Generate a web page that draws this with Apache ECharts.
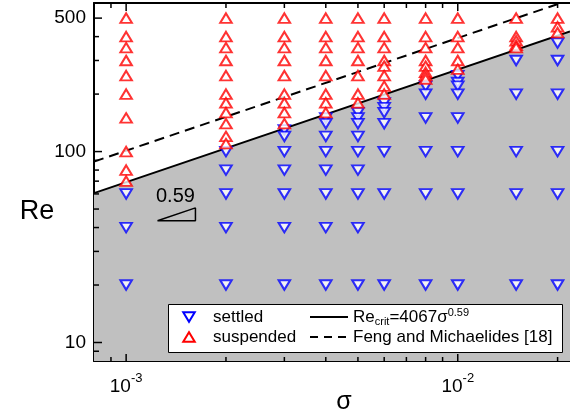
<!DOCTYPE html>
<html>
<head>
<meta charset="utf-8">
<script src="https://cdn.jsdelivr.net/npm/echarts@6/dist/echarts.min.js"></script>
<style>
html, body { margin: 0; padding: 0; background: #fff; }
#chart { width: 570px; height: 416px; }
</style>
</head>
<body>
<div id="chart"></div>
<script>
// Particle-load ratio columns
const sigmaValues = [0.001, 0.002, 0.003, 0.004, 0.005, 0.006, 0.008, 0.01, 0.015, 0.02];

// Reynolds numbers of runs where particles stayed on the bed
const settledRe = [
  [60, 40, 20],
  [100, 80, 60, 40, 20],
  [130, 120, 100, 80, 60, 40, 20],
  [150, 140, 120, 100, 80, 60, 40, 20],
  [160, 150, 140, 120, 100, 80, 60, 40, 20],
  [180, 170, 160, 140, 100, 60, 20],
  [220, 200, 150, 100, 60, 20],
  [250, 230, 220, 200, 150, 100, 60, 20],
  [300, 200, 100, 60, 20],
  [370, 300, 200, 100, 60, 20]
];

// Reynolds numbers of runs where particles were suspended
const suspendedRe = [
  [500, 400, 350, 300, 250, 200, 150, 100, 80, 70],
  [500, 400, 350, 300, 250, 200, 180, 160, 140, 120, 110],
  [500, 400, 350, 300, 250, 200, 180, 160, 140],
  [500, 400, 350, 300, 250, 200, 180, 160],
  [500, 400, 350, 300, 250, 200, 180],
  [500, 400, 350, 300, 280, 250, 220, 200],
  [500, 400, 350, 300, 280, 260, 250, 240],
  [500, 400, 350, 300, 270],
  [500, 400, 380, 360, 350],
  [500, 450, 420]
];

// Critical Reynolds number fit: Re_crit = 4067 * sigma^0.59
const critCoef = 4067;
const critExp = 0.59;

// Feng and Michaelides [18] criterion (end points of the straight log-log line)
const fengSigma = [0.0008, 0.0218];
const fengRe = [88.6, 623];

// Axis ranges
const sigmaRange = [0.0008, 0.0218];
const reRange = [8, 600];

// Tick positions
const xMajorTicks = [0.001, 0.01];
const xMinorTicks = [0.0009, 0.002, 0.003, 0.004, 0.005, 0.006, 0.007, 0.008, 0.009, 0.02];
const xTickLabels = ['-3', '-2'];
const yMajorTicks = [10, 100, 500];
const yMinorTicks = [9, 20, 30, 40, 50, 60, 70, 80, 90, 200, 300, 400];
const yTickLabels = ['10', '100', '500'];

// Slope indicator triangle (sigma range and base Re)
const slopeSigma = [0.001243, 0.001618];
const slopeBaseRe = 43.4;
const slopeText = '0.59';

const FONT = '"Liberation Sans", Arial, sans-serif';
const BLUE = '#0000ff';
const RED = '#ff0000';

const critLine = sigmaRange.map(s => [s, critCoef * Math.pow(s, critExp)]);
const fengLine = fengSigma.map((s, i) => [s, fengRe[i]]);
const settledPts = [];
const suspendedPts = [];
sigmaValues.forEach((s, i) => {
  settledRe[i].forEach(r => settledPts.push([s, r]));
  suspendedRe[i].forEach(r => suspendedPts.push([s, r]));
});
const slopeTopRe = slopeBaseRe * Math.pow(slopeSigma[1] / slopeSigma[0], critExp);
const slopeTri = [
  [slopeSigma[0], slopeBaseRe],
  [slopeSigma[1], slopeBaseRe],
  [slopeSigma[1], slopeTopRe],
  [slopeSigma[0], slopeBaseRe]
];

const markerStyle = (c) => ({ color: '#ffffff', borderColor: c, borderWidth: 2 });

const option = {
  animation: false,
  backgroundColor: '#ffffff',
  grid: { left: 94, top: 3, right: -5, bottom: 55, containLabel: false },
  xAxis: [
    {
      type: 'log', logBase: 10, min: sigmaRange[0], max: sigmaRange[1],
      axisLine: { show: true, lineStyle: { color: '#000', width: 2 } },
      axisTick: { show: false }, axisLabel: { show: false }, splitLine: { show: false }
    },
    {
      type: 'log', logBase: 10, position: 'top', min: sigmaRange[0], max: sigmaRange[1],
      axisLine: { show: true, lineStyle: { color: '#000', width: 2 } },
      axisTick: { show: false }, axisLabel: { show: false }, splitLine: { show: false }
    }
  ],
  yAxis: {
    type: 'log', logBase: 10, min: reRange[0], max: reRange[1],
    axisLine: { show: true, lineStyle: { color: '#000', width: 2 } },
    axisTick: { show: false }, axisLabel: { show: false }, splitLine: { show: false }
  },
  series: [
    {
      name: 'settled region', type: 'line', data: critLine, symbol: 'none', z: 1,
      lineStyle: { width: 0 },
      areaStyle: { origin: 'start', color: '#c0c0c0', opacity: 1 }
    },
    {
      name: 'Re_crit', type: 'line', data: critLine, symbol: 'none', z: 2,
      lineStyle: { color: '#000', width: 2 }
    },
    {
      name: 'Feng and Michaelides [18]', type: 'line', data: fengLine, symbol: 'none', z: 2,
      lineStyle: { color: '#000', width: 2, type: [10, 6] }
    },
    {
      name: 'slope', type: 'line', data: slopeTri, symbol: 'none', z: 2,
      lineStyle: { color: '#000', width: 1.5 }
    },
    {
      name: 'settled', type: 'scatter', data: settledPts, z: 3,
      symbol: 'triangle', symbolRotate: 180, symbolSize: [11.5, 9.5],
      itemStyle: markerStyle(BLUE)
    },
    {
      name: 'suspended', type: 'scatter', data: suspendedPts, z: 4,
      symbol: 'triangle', symbolSize: [11.5, 9.5],
      itemStyle: markerStyle(RED)
    }
  ]
};

const chart = echarts.init(document.getElementById('chart'), null, { renderer: 'canvas' });
chart.setOption(option);

const px = v => chart.convertToPixel({ xAxisIndex: 0 }, v);
const py = v => chart.convertToPixel({ yAxisIndex: 0 }, v);
const plotLeft = px(sigmaRange[0]);
const plotTop = py(reRange[1]);
const plotBottom = py(reRange[0]);

const g = [];
const tick = (x1, y1, x2, y2) => g.push({
  type: 'line', z: 20, silent: true,
  shape: { x1, y1, x2, y2 },
  style: { stroke: '#000', lineWidth: 1.5 }
});

// x ticks on the bottom and top frame, pointing inward
xMajorTicks.forEach(v => { const x = px(v); tick(x, plotBottom, x, plotBottom - 7); tick(x, plotTop, x, plotTop + 8); });
xMinorTicks.forEach(v => { const x = px(v); tick(x, plotBottom, x, plotBottom - 4); tick(x, plotTop, x, plotTop + 5); });
// y ticks on the left frame
yMajorTicks.forEach(v => { const y = py(v); tick(plotLeft, y, plotLeft + 8, y); });
yMinorTicks.forEach(v => { const y = py(v); tick(plotLeft, y, plotLeft + 5, y); });

// x tick labels: powers of ten
xMajorTicks.forEach((v, i) => g.push({
  type: 'text', z: 20, silent: true,
  x: px(v), y: plotBottom + 11,
  style: {
    text: '{b|10}{s|' + xTickLabels[i] + '}',
    align: 'center', verticalAlign: 'top',
    rich: {
      b: { fontFamily: FONT, fontSize: 19, fill: '#000', lineHeight: 24, verticalAlign: 'bottom' },
      s: { fontFamily: FONT, fontSize: 13, fill: '#000', lineHeight: 14, verticalAlign: 'top' }
    }
  }
}));
// y tick labels
yMajorTicks.forEach((v, i) => g.push({
  type: 'text', z: 20, silent: true,
  x: plotLeft - 8, y: py(v),
  style: { text: yTickLabels[i], align: 'right', verticalAlign: 'middle', fontFamily: FONT, fontSize: 19, fill: '#000' }
}));

// axis names
g.push({
  type: 'text', z: 20, silent: true, x: 37, y: 212,
  style: { text: 'Re', align: 'center', verticalAlign: 'middle', fontFamily: FONT, fontSize: 27, fill: '#000' }
});
g.push({
  type: 'text', z: 20, silent: true, x: 344, y: 402,
  style: { text: 'σ', align: 'center', verticalAlign: 'middle', fontFamily: FONT, fontSize: 25, fill: '#000' }
});

// slope annotation text
g.push({
  type: 'text', z: 20, silent: true,
  x: (px(slopeSigma[0]) + px(slopeSigma[1])) / 2 - 1, y: py(slopeBaseRe) - 24,
  style: { text: slopeText, align: 'center', verticalAlign: 'middle', fontFamily: FONT, fontSize: 20, fill: '#000' }
});

// legend box
const lx = 168, ly = 304, lw = 394, lh = 48;
g.push({ type: 'rect', z: 30, silent: true, shape: { x: lx + 0.5, y: ly + 0.5, width: lw, height: lh },
  style: { fill: '#fff', stroke: '#000', lineWidth: 1 } });
const row1 = ly + 13, row2 = ly + 33;
const mx = 189, hw = 5.75, hh = 4.75;
g.push({ type: 'polygon', z: 31, silent: true,
  shape: { points: [[mx - hw, row1 - hh], [mx + hw, row1 - hh], [mx, row1 + hh]] },
  style: { fill: '#fff', stroke: BLUE, lineWidth: 2 } });
g.push({ type: 'polygon', z: 31, silent: true,
  shape: { points: [[mx - hw, row2 + hh], [mx + hw, row2 + hh], [mx, row2 - hh]] },
  style: { fill: '#fff', stroke: RED, lineWidth: 2 } });
const legText = (x, y, text) => g.push({ type: 'text', z: 31, silent: true, x, y,
  style: { text, align: 'left', verticalAlign: 'middle', fontFamily: FONT, fontSize: 17, fill: '#000' } });
legText(213, row1, 'settled');
legText(213, row2, 'suspended');
g.push({ type: 'line', z: 31, silent: true, shape: { x1: 310, y1: row1, x2: 348, y2: row1 },
  style: { stroke: '#000', lineWidth: 2 } });
g.push({ type: 'line', z: 31, silent: true, shape: { x1: 310, y1: row2, x2: 348, y2: row2 },
  style: { stroke: '#000', lineWidth: 2, lineDash: [8, 6] } });
g.push({
  type: 'text', z: 31, silent: true, x: 353, y: row1,
  style: {
    text: '{a|Re}{b|crit}{a|=4067σ}{c|0.59}', align: 'left', verticalAlign: 'middle',
    rich: {
      a: { fontFamily: FONT, fontSize: 17, fill: '#000', lineHeight: 20, verticalAlign: 'middle' },
      b: { fontFamily: FONT, fontSize: 11, fill: '#000', lineHeight: 12, verticalAlign: 'bottom' },
      c: { fontFamily: FONT, fontSize: 11, fill: '#000', lineHeight: 12, verticalAlign: 'top' }
    }
  }
});
legText(353, row2, 'Feng and Michaelides [18]');

chart.setOption({ graphic: g });
</script>
</body>
</html>
